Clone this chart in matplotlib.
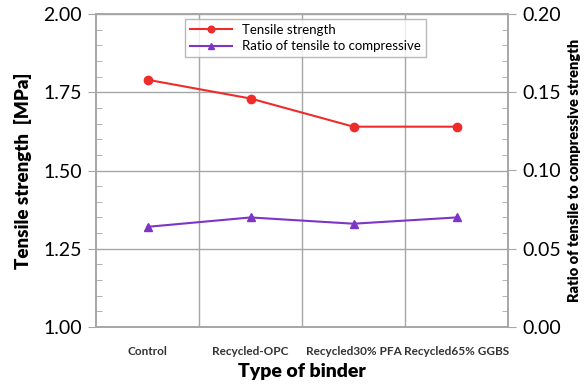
import matplotlib
matplotlib.use("Agg")
import matplotlib.pyplot as plt
from matplotlib.ticker import MultipleLocator

plt.rcParams["font.family"] = ["Lato", "DejaVu Sans"]

#Data
binders = ["Control", "Recycled-OPC", "Recycled30% PFA", "Recycled65% GGBS"]
tensile = [1.79, 1.73, 1.64, 1.64]
ratio = [0.064, 0.070, 0.066, 0.070]

grid_col = "#a6a6a6"

fig = plt.figure(figsize=(5.87, 3.86), dpi=100)
ax = fig.add_axes([96 / 587, 1 - 327 / 386, 412 / 587, 313 / 386])
ax2 = ax.twinx()

x = list(range(len(binders)))

#Tensile strength line
l1, = ax.plot(x, tensile, color="#ee2c2c", marker="o", markersize=6,
              linewidth=1.5, label="Tensile strength")
#Ratio line on secondary axis
l2, = ax2.plot(x, ratio, color="#7d35c6", marker="^", markersize=6,
               linewidth=1.5, label="Ratio of tensile to compressive")

ax.set_xlim(-0.5, 3.5)
ax.set_ylim(1.0, 2.0)
ax2.set_ylim(0.0, 0.2)

ax.yaxis.set_major_locator(MultipleLocator(0.25))
ax.yaxis.set_minor_locator(MultipleLocator(0.05))
ax2.yaxis.set_major_locator(MultipleLocator(0.05))
ax2.yaxis.set_minor_locator(MultipleLocator(0.01))
ax.yaxis.set_major_formatter(lambda v, p: f"{v:.2f}")
ax2.yaxis.set_major_formatter(lambda v, p: f"{v:.2f}")

ax.set_xticks(x)
ax.set_xticklabels(binders, fontsize=8.5, fontweight="bold", color="#333333")
ax.set_xticks([0.5, 1.5, 2.5], minor=True)
ax.tick_params(axis="x", which="both", length=0, pad=14)

#Grid: horizontal on majors, vertical between categories
ax.grid(axis="y", which="major", color=grid_col, linewidth=1)
ax.grid(axis="x", which="minor", color=grid_col, linewidth=1)
ax.set_axisbelow(True)

ax.tick_params(axis="y", which="major", labelsize=14, length=6, color=grid_col, pad=4)
ax.tick_params(axis="y", which="minor", direction="in", length=4, color=grid_col)
ax2.tick_params(axis="y", which="major", labelsize=14, length=6, color=grid_col, pad=4)
ax2.tick_params(axis="y", which="minor", direction="in", length=4, color=grid_col)

for a in (ax, ax2):
    for s in a.spines.values():
        s.set_color(grid_col)
        s.set_linewidth(1.2)

ax.set_xlabel("Type of binder", fontsize=14, fontweight="heavy", labelpad=4)
ax.set_ylabel("Tensile strength  [MPa]", fontsize=13.5, fontweight="heavy", labelpad=8)
ax2.set_ylabel("Ratio of tensile to compressive strength", fontsize=10.5,
               fontweight="heavy", labelpad=5)

leg = ax.legend(handles=[l1, l2], loc="upper left",
                bbox_to_anchor=(89 / 412, 1 - 5 / 313), fontsize=9.5,
                frameon=True, fancybox=False, borderpad=0.35,
                handlelength=3.2, labelspacing=0.35, borderaxespad=0,
                markerscale=0.8)
leg.get_frame().set_edgecolor(grid_col)
leg.get_frame().set_linewidth(1)

fig.savefig("out.png", dpi=100)
